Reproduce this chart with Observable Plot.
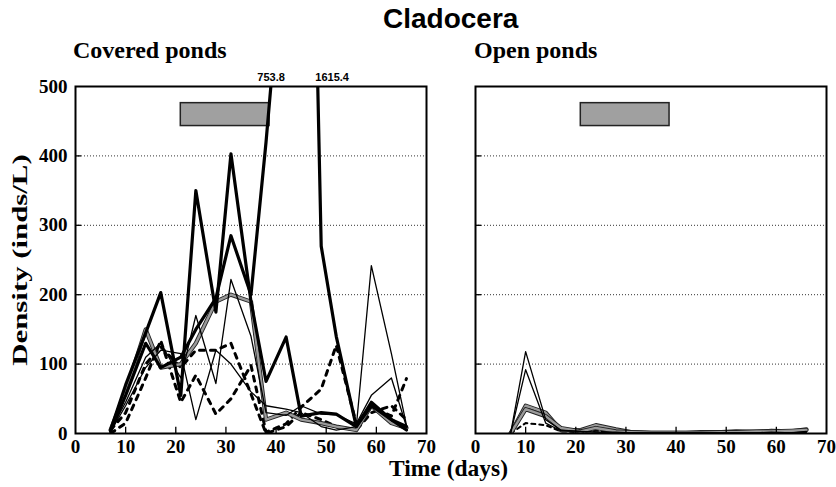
<!DOCTYPE html>
<html><head><meta charset="utf-8">
<script src="https://cdn.jsdelivr.net/npm/d3@7"></script>
<script src="https://cdn.jsdelivr.net/npm/@observablehq/plot@0.6"></script>
<style>
body{margin:0;background:#fff}
#wrap{position:relative;width:836px;height:487px;overflow:hidden;background:#fff}
#wrap svg{position:absolute;left:0;top:0}
.t{position:absolute;white-space:nowrap;font-family:"Liberation Serif",serif;font-weight:bold;color:#000;line-height:1}
</style></head><body><div id="wrap"></div>
<script>
// ---- data ----
const panels = ["Covered ponds", "Open ponds"];
const days = [7, 10, 14, 17, 21, 24, 28, 31, 35, 38, 42, 45, 49, 52, 56, 59, 63, 66];
const xTicks = [0, 10, 20, 30, 40, 50, 60, 70];
const yTicks = [0, 100, 200, 300, 400, 500];
const gridValues = [100, 200, 300, 400];
// covered ponds
const coveredA = [5, 70, 145, 203, 55, 350, 175, 403, 190, 75, 139, 25, 30, 28, 10, 45, 20, 10];
const coveredB = [3, 55, 130, 95, 110, 150, 195, 285, 200, 420, 753.8, 1615.4, 270, 140, 10, 40, 20, 5];
const coveredC = [5, 45, 110, 130, 80, 170, 72, 222, 140, 30, 26, 40, 28, 27, 14, 55, 80, 10];
const coveredD = [3, 40, 95, 120, 115, 20, 120, 100, 60, 40, 35, 30, 10, 5, 10, 242, 115, 12];
const coveredE = [0, 15, 80, 134, 45, 84, 28, 50, 98, 2, 14, 38, 64, 127, 14, 40, 25, 79];
const coveredF = [5, 30, 100, 125, 95, 120, 120, 130, 57, 0, 10, 30, 20, 10, 5, 30, 40, 20];
const coveredG = [5, 60, 150, 95, 100, 130, 190, 200, 190, 20, 30, 20, 15, 10, 5, 40, 15, 8];
// open ponds
const openA = [0, 118, 20, 5, 3, 2, 2, 1, 1, 1, 1, 1, 1, 1, 1, 2, 1, 3];
const openB = [0, 92, 15, 4, 3, 2, 1, 1, 1, 1, 1, 1, 1, 1, 1, 1, 1, 2];
const openC = [0, 40, 30, 5, 5, 12, 6, 2, 1, 1, 1, 2, 2, 3, 2, 4, 3, 6];
const openD = [0, 35, 25, 8, 3, 8, 3, 2, 1, 1, 1, 1, 2, 2, 3, 3, 4, 5];
const openE = [0, 15, 12, 3, 2, 4, 2, 1, 1, 1, 1, 1, 1, 1, 1, 1, 1, 1];
// cover period bar
const coverPeriod = {start: 21, end: 38.7, low: 443, high: 476};
const offScale = [{day: 42, value: 753.8}, {day: 45, value: 1615.4}];

// ---- build ----
const rows = (vals, panel) => days.map((d, i) => ({day: d, value: vals[i], panel}));
const P0 = panels[0], P1 = panels[1];

const thick = {stroke: "#000", strokeWidth: 3.2};
const thin = {stroke: "#000", strokeWidth: 1.3};
const dashed = {stroke: "#000", strokeWidth: 3, strokeDasharray: "5,6"};

function line(vals, panel, style) {
  return Plot.line(rows(vals, panel), {x: "day", y: "value", fx: "panel", clip: true, strokeLinejoin: "round", ...style});
}
function grayLine(vals, panel) {
  return [
    Plot.line(rows(vals, panel), {x: "day", y: "value", fx: "panel", clip: true, stroke: "#222", strokeWidth: 4.2, strokeLinejoin: "round"}),
    Plot.line(rows(vals, panel), {x: "day", y: "value", fx: "panel", clip: true, stroke: "#9a9a9a", strokeWidth: 2.4, strokeLinejoin: "round"})
  ];
}
function offLabel(d, dx) {
  return Plot.text([{...d, panel: P0}], {x: "day", fx: "panel", text: r => String(r.value), frameAnchor: "top", dy: -13, dx, fontSize: 11, fontFamily: "Liberation Sans", fontWeight: "bold"});
}

const bothPanels = (arr) => panels.flatMap(p => arr.map(v => ({v, panel: p})));

const chart = Plot.plot({
  width: 836, height: 487,
  marginLeft: 75, marginRight: 10, marginTop: 86, marginBottom: 54,
  fx: {domain: panels, padding: 0.123, axis: null, label: null},
  x: {domain: [0, 70], axis: null},
  y: {domain: [0, 500], axis: null},
  style: {fontFamily: "Liberation Serif", fontWeight: "bold", background: "#fff"},
  marks: [
    Plot.ruleY(bothPanels(gridValues), {y: "v", fx: "panel", stroke: "#333", strokeWidth: 1, strokeDasharray: "1,2"}),
    Plot.rect(panels.map(p => ({panel: p, ...coverPeriod})), {x1: "start", x2: "end", y1: "low", y2: "high", fx: "panel", fill: "#a0a0a0", stroke: "#222", strokeWidth: 1.5}),
    line(coveredE, P0, dashed),
    line(coveredF, P0, dashed),
    ...grayLine(coveredG, P0),
    line(coveredC, P0, thin),
    line(coveredD, P0, thin),
    line(coveredA, P0, thick),
    line(coveredB, P0, thick),
    line(openE, P1, {stroke: "#000", strokeWidth: 2, strokeDasharray: "4,4"}),
    ...grayLine(openC, P1),
    ...grayLine(openD, P1),
    line(openA, P1, thin),
    line(openB, P1, thin),
    // frame & ticks
    Plot.frame({stroke: "#000", strokeWidth: 2}),
    Plot.ruleX(bothPanels(xTicks.slice(1, -1)), {x: "v", fx: "panel", y1: 0, y2: 9, stroke: "#000", strokeWidth: 1.3}),
    Plot.ruleY(bothPanels(yTicks.slice(1, -1)), {y: "v", fx: "panel", x1: 0, x2: 1.2, stroke: "#000", strokeWidth: 1.3}),
    Plot.text(bothPanels(xTicks), {x: "v", fx: "panel", text: d => String(d.v), frameAnchor: "bottom", dy: 19, fontSize: 19, fontFamily: "Liberation Serif", fontWeight: "bold"}),
    Plot.text(yTicks.map(v => ({v, panel: P0})), {y: "v", fx: "panel", text: d => String(d.v), frameAnchor: "left", dx: -8, textAnchor: "end", fontSize: 19, fontFamily: "Liberation Serif", fontWeight: "bold"}),
    offLabel(offScale[0], -15),
    offLabel(offScale[1], 31)
  ]
});
const wrap = document.getElementById("wrap");
wrap.appendChild(chart);
function addText(txt, css) {
  const el = document.createElement("div");
  el.className = "t";
  el.textContent = txt;
  Object.assign(el.style, css);
  wrap.appendChild(el);
  return el;
}
addText("Cladocera", {left: "383px", top: "5px", fontFamily: "'Liberation Sans', Arial, sans-serif", fontSize: "28px"});
addText("Covered ponds", {left: "73px", top: "38px", fontSize: "24px"});
addText("Open ponds", {left: "474px", top: "38px", fontSize: "24px"});
addText("Time (days)", {left: "389px", top: "457px", fontSize: "23.5px"});
const yl = addText("Density (inds/L)", {left: "20px", top: "260px", fontSize: "22px", transform: "translate(-50%,-50%) rotate(-90deg) scaleX(1.4)"});
</script>
</body></html>
